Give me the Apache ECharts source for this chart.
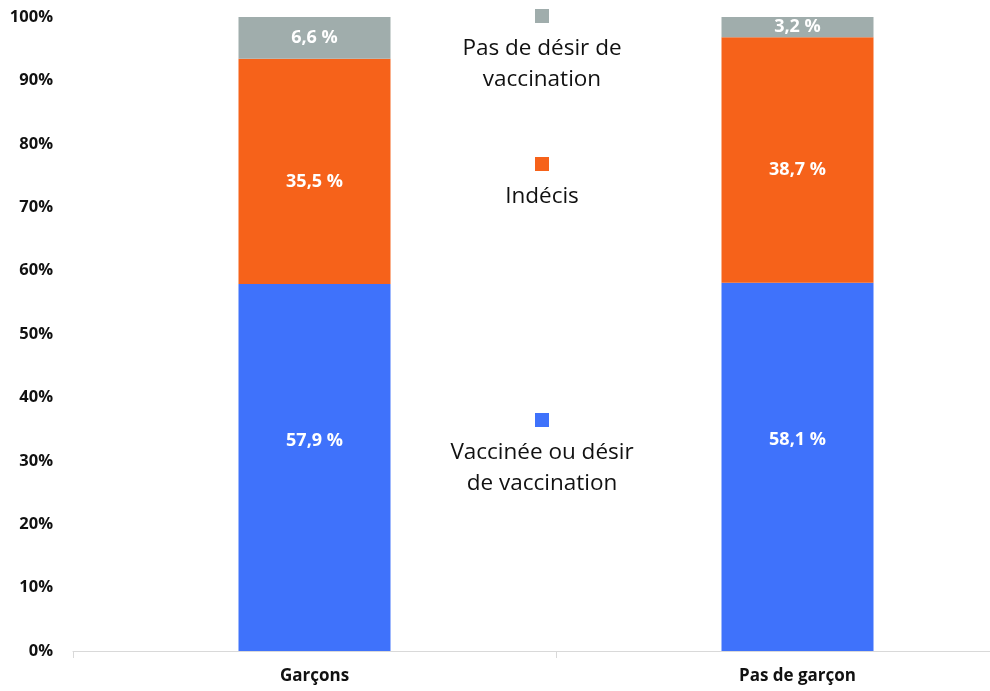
<!DOCTYPE html>
<html>
<head>
<meta charset="utf-8">
<script src="https://cdn.jsdelivr.net/npm/echarts@6/dist/echarts.min.js"></script>
<style>
  html, body { margin: 0; padding: 0; background: #fff; overflow: hidden; }
  /* the plot runs past the right edge of the window, so the canvas is wider than the view */
  #chart { width: 1039px; height: 691px; }
</style>
</head>
<body>
<div id="chart"></div>
<script>
// Categories and stacked shares (%)
const categories = ['Garçons', 'Pas de garçon'];
const vaccinee = [57.9, 58.1];
const indecis = [35.5, 38.7];
const pasDesir = [6.6, 3.2];
const seriesNames = ['Vaccinée ou désir de vaccination', 'Indécis', 'Pas de désir de vaccination'];
const yTicks = [0, 10, 20, 30, 40, 50, 60, 70, 80, 90, 100];

const colors = ['#3f72fb', '#f6621a', '#a0adac'];
const FONT = 'Open Sans';

const chart = echarts.init(document.getElementById('chart'));

const fmt = v => v.toFixed(1).replace('.', ',') + ' %';

function barSeries(name, data, color, labelOffset) {
  return {
    name: name,
    type: 'bar',
    stack: 'total',
    data: data,
    barWidth: 152,
    itemStyle: { color: color },
    label: {
      show: true,
      position: 'inside',
      offset: labelOffset,
      color: '#fff',
      fontFamily: FONT,
      fontWeight: 'bold',
      fontSize: 18,
      formatter: p => fmt(p.value)
    },
    emphasis: { disabled: true }
  };
}

// Legend drawn as a square over a centred text block
function legendItem(color, lines, squareY) {
  return [
    { type: 'rect', shape: { x: 535, y: squareY, width: 14, height: 14 }, style: { fill: color } },
    {
      type: 'text',
      style: {
        x: 542, y: squareY + 24,
        text: lines.join('\n'),
        align: 'center', verticalAlign: 'top',
        fontFamily: FONT, fontSize: 22.5, lineHeight: 31,
        fill: '#111'
      }
    }
  ];
}

chart.setOption({
  animation: false,
  grid: { left: 73, right: 0, top: 17, bottom: 40, containLabel: false },
  xAxis: {
    type: 'category',
    data: categories,
    axisLine: { lineStyle: { color: '#d9d9d9' } },
    axisTick: { show: true, length: 7, lineStyle: { color: '#d9d9d9' } },
    axisLabel: {
      color: '#111', fontFamily: FONT, fontWeight: 'bold', fontSize: 17, margin: 17
    }
  },
  yAxis: {
    type: 'value',
    min: yTicks[0],
    max: yTicks[yTicks.length - 1],
    interval: 10,
    axisLine: { show: false },
    axisTick: { show: false },
    splitLine: { show: false },
    axisLabel: {
      color: '#111', fontFamily: FONT, fontWeight: 'bold', fontSize: 16.5, margin: 20,
      formatter: v => v + '%'
    }
  },
  series: [
    barSeries(seriesNames[0], vaccinee, colors[0], [0, -27]),
    barSeries(seriesNames[1], indecis, colors[1], [0, 10]),
    barSeries(seriesNames[2], pasDesir, colors[2], [0, 0])
  ],
  graphic: [
    ...legendItem(colors[2], ['Pas de désir de', 'vaccination'], 9),
    ...legendItem(colors[1], ['Indécis'], 157),
    ...legendItem(colors[0], ['Vaccinée ou désir', 'de vaccination'], 413)
  ]
});
</script>
</body>
</html>
